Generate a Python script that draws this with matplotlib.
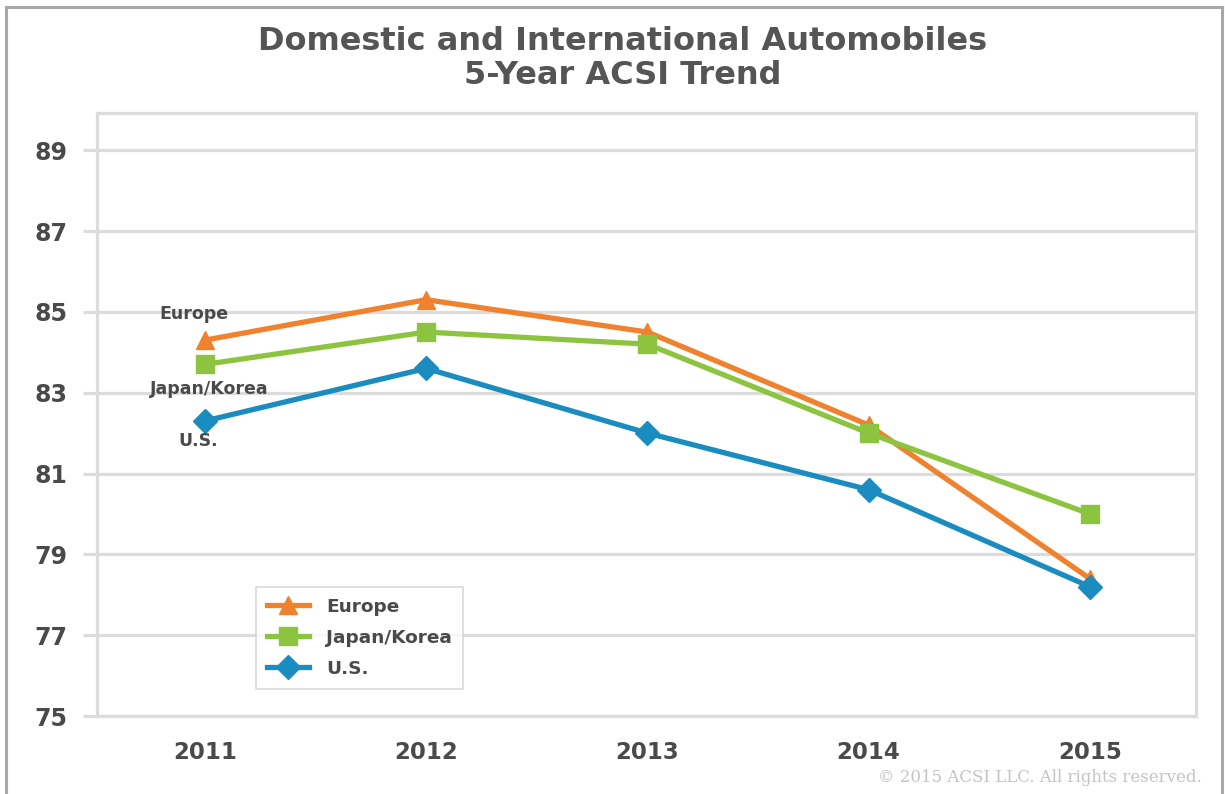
import matplotlib
matplotlib.use("Agg")
import matplotlib.pyplot as plt
from matplotlib.lines import Line2D

plt.rcParams['font.family'] = ['DejaVu Sans']

# ---------------------------------------------------------------------------
# data
years = ["2011", "2012", "2013", "2014", "2015"]
europe = [84.3, 85.3, 84.5, 82.2, 78.4]
japan_korea = [83.7, 84.5, 84.2, 82.0, 80.0]
us = [82.3, 83.6, 82.0, 80.6, 78.2]
yticks = [75, 77, 79, 81, 83, 85, 87, 89]

series_names = ["Europe", "Japan/Korea", "U.S."]
series_vals = [europe, japan_korea, us]
series_colors = ["#f0812e", "#8cc43f", "#1a8cc0"]
series_markers = ["^", "s", "D"]

text_col = "#4a4a4a"
grid_col = "#dcdcdc"

# ---------------------------------------------------------------------------
fig = plt.figure(figsize=(12.25, 7.94), dpi=100)
ax = fig.add_axes([96.5 / 1225, 1 - 716 / 794, (1196 - 96.5) / 1225, (716 - 113) / 794])

x = list(range(len(years)))
for name, vals, c, m in zip(series_names, series_vals, series_colors, series_markers):
    ax.plot(x, vals, color=c, marker=m, markersize=13 if m != "D" else 12,
            linewidth=3.8, label=name, zorder=3, clip_on=False)

ax.set_xlim(-0.49, 4.48)
ax.set_ylim(75, 89.92)
ax.set_xticks(x)
ax.set_xticklabels(years)
ax.set_yticks(yticks)
ax.yaxis.grid(True, color=grid_col, linewidth=2.3)
ax.set_axisbelow(True)

for s in ax.spines.values():
    s.set_color(grid_col)
    s.set_linewidth(2.3)

ax.tick_params(axis='y', length=10, width=2.3, color=grid_col, pad=11,
               labelsize=17, labelcolor=text_col)
ax.tick_params(axis='x', length=0, pad=18, labelsize=16.5, labelcolor=text_col)
for lbl in ax.get_xticklabels() + ax.get_yticklabels():
    lbl.set_fontweight('bold')

# series labels at the 2011 points
ax.text(-0.05, 84.95, "Europe", ha='center', va='center', fontsize=12.5,
        fontweight='bold', color=text_col)
ax.text(0.02, 83.1, "Japan/Korea", ha='center', va='center', fontsize=12.5,
        fontweight='bold', color=text_col)
ax.text(-0.03, 81.8, "U.S.", ha='center', va='center', fontsize=12.5,
        fontweight='bold', color=text_col)

leg = ax.legend(loc='lower left', bbox_to_anchor=(0.145, 0.045), frameon=True,
                fancybox=False, edgecolor="#d0d0d0", fontsize=13.3,
                borderpad=0.6, labelspacing=0.7, handlelength=2.3,
                handletextpad=0.9, borderaxespad=0)
leg.get_frame().set_linewidth(1.2)
for t in leg.get_texts():
    t.set_fontweight('bold')
    t.set_color(text_col)

# title
fig.text(623 / 1225, 1 - 41 / 794, "Domestic and International Automobiles",
         ha='center', va='center', fontsize=23, fontweight='bold', color="#555555")
fig.text(623 / 1225, 1 - 76 / 794, "5-Year ACSI Trend",
         ha='center', va='center', fontsize=23, fontweight='bold', color="#555555")

# copyright
fig.text(1202 / 1225, 1 - 778 / 794, "\u00a9 2015 ACSI LLC. All rights reserved.",
         ha='right', va='center', fontsize=12, color="#c4c4c4",
         family=['DejaVu Serif'])

# outer frame
fcol = "#a8a8a8"
fig.add_artist(Line2D([6 / 1225, 6 / 1225], [0, 1 - 7 / 794], color=fcol, linewidth=2.2))
fig.add_artist(Line2D([6 / 1225, 1222 / 1225], [1 - 7 / 794, 1 - 7 / 794], color=fcol, linewidth=2.2))
fig.add_artist(Line2D([1222 / 1225, 1222 / 1225], [0, 1 - 7 / 794], color=fcol, linewidth=2.2))

fig.savefig("out.png", dpi=100)
